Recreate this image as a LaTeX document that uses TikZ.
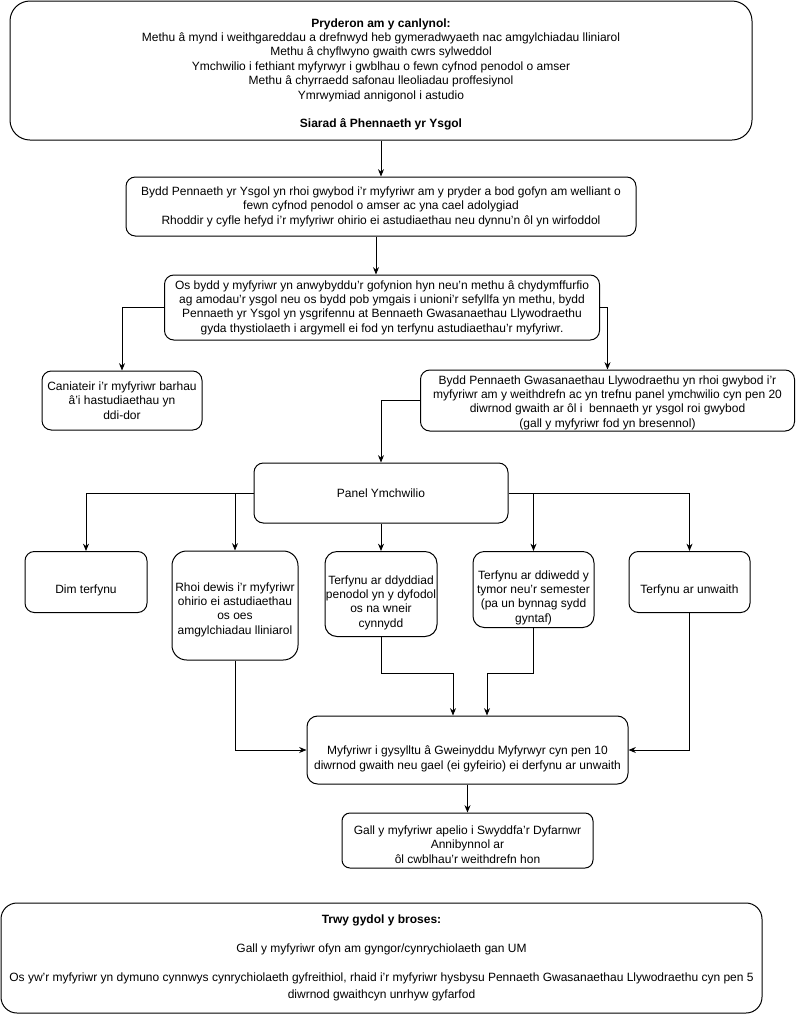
\documentclass[tikz,border=0pt]{standalone}
\usepackage{fontspec}
\setmainfont{Liberation Sans}
\usetikzlibrary{arrows.meta, calc}
\tikzstyle{box}=[draw, rounded corners=7pt, align=center, inner sep=0pt, line width=0.75pt, font=\fontsize{9}{10.8}\selectfont]
\tikzstyle{lbl}=[align=center, inner sep=0pt, font=\fontsize{9}{10.8}\selectfont]
\tikzstyle{arr}=[-{Stealth[length=5.5pt, width=4.5pt]}, line width=0.75pt]
\tikzset{dims/.style 2 args={minimum width=#1*0.75pt, minimum height=#2*0.75pt}}

\begin{document}
\begin{tikzpicture}[x=0.75pt, y=-0.75pt]
    \useasboundingbox (0,0) rectangle (796,1015);
    \node[box, dims={742}{139}, rounded corners=15pt, label={[lbl, yshift=-3pt]center:{\textbf{Pryderon am y canlynol:}\\
        Methu â mynd i weithgareddau a drefnwyd heb gymeradwyaeth nac amgylchiadau lliniarol\\
        Methu â chyflwyno gwaith cwrs sylweddol\\
        Ymchwilio i fethiant myfyrwyr i gwblhau o fewn cyfnod penodol o amser\\
        Methu â chyrraedd safonau lleoliadau proffesiynol\\
        Ymrwymiad annigonol i astudio\\[10.8pt]
        \textbf{Siarad â Phennaeth yr Ysgol}}}] (pryder) at (381,70.5) {};
    \node[box, dims={510}{59}] (pennaeth) at (381,206.5) {Bydd Pennaeth yr Ysgol yn rhoi gwybod i’r myfyriwr am y pryder a bod gofyn am welliant o\\
        fewn cyfnod penodol o amser ac yna cael adolygiad\\
        Rhoddir y cyfle hefyd i’r myfyriwr ohirio ei astudiaethau neu dynnu'n ôl yn wirfoddol};
    \node[box, dims={435}{65}] (argymell) at (382,307.5) {Os bydd y myfyriwr yn anwybyddu'r gofynion hyn neu'n methu â chydymffurfio\\
        ag amodau’r ysgol neu os bydd pob ymgais i unioni'r sefyllfa yn methu, bydd\\
        Pennaeth yr Ysgol yn ysgrifennu at Bennaeth Gwasanaethau Llywodraethu\\
        gyda thystiolaeth i argymell ei fod yn terfynu astudiaethau’r myfyriwr.};
    \node[box, dims={160}{59}] (barhau) at (122,400.5) {Caniateir i'r myfyriwr barhau\\ â'i hastudiaethau yn\\ ddi-dor};
    \node[box, dims={374}{61}, label={[lbl, yshift=-1.5pt]center:{Bydd Pennaeth Gwasanaethau Llywodraethu yn rhoi gwybod i’r\\
        myfyriwr am y weithdrefn ac yn trefnu panel ymchwilio cyn pen 20\\
        diwrnod gwaith ar ôl i\ \ bennaeth yr ysgol roi gwybod\\
        (gall y myfyriwr fod yn bresennol)}}] (llywod) at (607.5,400.5) {};
    \node[box, dims={254}{60}] (panel) at (381,493) {Panel Ymchwilio};
    \node[box, dims={122}{61}, label={[lbl, yshift=-6pt]center:Dim terfynu}] (dim) at (86,582) {};
    \node[box, dims={126}{109}, rounded corners=11pt, label={[lbl, yshift=-3pt]center:{Rhoi dewis i’r myfyriwr\\ ohirio ei astudiaethau\\ os oes\\ amgylchiadau lliniarol}}] (ohirio) at (235,605.5) {};
    \node[box, dims={112}{85}, rounded corners=9pt, label={[lbl, yshift=-6.5pt]center:{Terfynu ar ddyddiad\\ penodol yn y dyfodol\\ os na wneir\\ cynnydd}}] (dyddiad) at (381,594) {};
    \node[box, dims={121}{76}, rounded corners=8.5pt, label={[lbl, yshift=-6pt]center:{Terfynu ar ddiwedd y\\ tymor neu'r semester\\ (pa un bynnag sydd\\ gyntaf)}}] (diwedd) at (533.5,589.5) {};
    \node[box, dims={121}{61}, label={[lbl, yshift=-6.5pt]center:Terfynu ar unwaith}] (unwaith) at (689.5,582) {};
    \node[box, dims={321}{68}, rounded corners=8pt, label={[lbl, yshift=-6.5pt]center:{Myfyriwr i gysylltu â Gweinyddu Myfyrwyr cyn pen 10\\
        diwrnod gwaith neu gael (ei gyfeirio) ei derfynu ar unwaith}}] (cysylltu) at (467.5,750) {};
    \node[box, dims={251}{55}, rounded corners=6pt, label={[lbl, yshift=-3pt]center:{Gall y myfyriwr apelio i Swyddfa’r Dyfarnwr\\ Annibynnol ar\\ ôl cwblhau'r weithdrefn hon}}] (apelio) at (467.5,840.5) {};
    \node[box, dims={761}{110}, rounded corners=12pt] (broses) at (381.5,958) {\textbf{Trwy gydol y broses:}\\[11pt]
        Gall y myfyriwr ofyn am gyngor/cynrychiolaeth gan UM\\[11pt]
        Os yw’r myfyriwr yn dymuno cynnwys cynrychiolaeth gyfreithiol, rhaid i’r myfyriwr hysbysu Pennaeth Gwasanaethau Llywodraethu cyn pen 5\\[1.5pt]
        diwrnod gwaithcyn unrhyw gyfarfod};
    \draw[arr] (pryder) -- (pennaeth);
    \draw[arr] ([xshift=-3.75pt]pennaeth.south) -- ([xshift=-3.75pt]pennaeth.south |- argymell.north);
    \draw[arr] (argymell.west) -| (barhau.north);
    \draw[arr] (argymell.east) -| (llywod.north);
    \draw[arr] (llywod.west) -| (panel.north);
    \draw[arr] (panel.west) -| (dim.north);
    \draw[arr] (panel.west -| ohirio.north) -- (ohirio.north);
    \draw[arr] (panel) -- (dyddiad);
    \draw[arr] (panel.east) -| (unwaith.north);
    \draw[arr] (panel.east -| diwedd.north) -- (diwedd.north);
    \draw[arr] (ohirio.south) |- (cysylltu.west);
    \draw[arr] (unwaith.south) |- (cysylltu.east);
    \draw[arr] (dyddiad.south) -- ++(0,36) -| ($(cysylltu.north)+(-14.5,0)$);
    \draw[arr] (diwedd.south) -- ++(0,45) -| ($(cysylltu.north)+(19.5,0)$);
    \draw[arr] (cysylltu) -- (apelio);
\end{tikzpicture}
\end{document}
